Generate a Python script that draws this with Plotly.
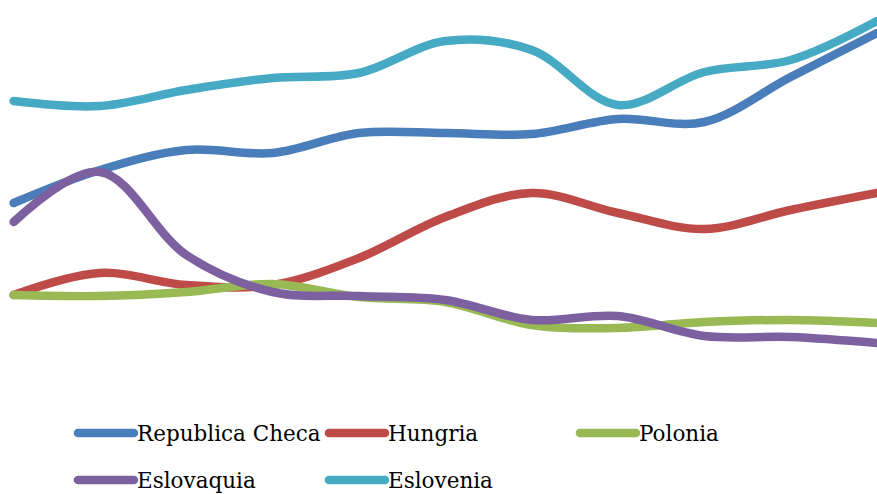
import plotly.graph_objects as go

# x positions (periods) and series values (arbitrary index units)
periods = list(range(11))
series_names = ["Republica Checa", "Hungria", "Polonia", "Eslovaquia", "Eslovenia"]
colors = ["#4A7EBB", "#BE4B48", "#98B954", "#7D60A0", "#46AAC5"]

republica_checa = [49.25, 57.5, 62.5, 61.75, 66.75, 66.75, 66.5, 70.25, 69.5, 80.75, 91.75]
hungria = [26.25, 31.75, 28.75, 28.75, 35.5, 45.75, 51.75, 46.75, 42.75, 47.5, 51.75]
polonia = [26.25, 26.0, 27.0, 29.0, 25.75, 24.5, 18.75, 18.0, 19.5, 20.0, 19.25]
eslovaquia = [44.5, 57.0, 36.25, 27.0, 26.0, 25.0, 20.0, 21.0, 16.0, 15.75, 14.25]
eslovenia = [74.75, 73.5, 77.5, 80.5, 81.75, 89.75, 87.5, 73.75, 82.0, 85.0, 94.75]

data = [republica_checa, hungria, polonia, eslovaquia, eslovenia]
legend_ids = ["legend", "legend", "legend", "legend2", "legend2"]

fig = go.Figure()
for name, vals, col, lg in zip(series_names, data, colors, legend_ids):
    fig.add_trace(go.Scatter(
        x=periods, y=vals, name=name, mode="lines",
        line=dict(color=col, width=8.5, shape="spline", smoothing=1.0),
        legend=lg,
    ))

legend_common = dict(
    orientation="h",
    font=dict(family="DejaVu Serif", size=21.5, color="#000000"),
    bgcolor="rgba(0,0,0,0)",
    borderwidth=0,
    itemwidth=54,
    entrywidthmode="pixels",
    entrywidth=182,
    xref="container",
    yref="container",
    xanchor="left",
    yanchor="middle",
    itemclick=False,
    itemdoubleclick=False,
)

fig.update_layout(
    width=877, height=494,
    margin=dict(l=5, r=0, t=0, b=94),
    paper_bgcolor="white", plot_bgcolor="white",
    showlegend=True,
    xaxis=dict(range=[-0.1, 10], visible=False, fixedrange=True),
    yaxis=dict(range=[0, 100], visible=False, fixedrange=True),
    legend=dict(x=0.0832, y=0.1235, **legend_common),
    legend2=dict(x=0.0832, y=0.0283, **legend_common),
)

post = """
document.querySelectorAll('.scatterlayer .js-line').forEach(function(p){
  p.style.strokeLinecap='round'; p.style.strokeLinejoin='round';
});
document.querySelectorAll('.legendlines path').forEach(function(p){
  p.setAttribute('d','M5,0h56'); p.style.strokeLinecap='round';
});
"""

fig.write_html("out.html", post_script=post)
